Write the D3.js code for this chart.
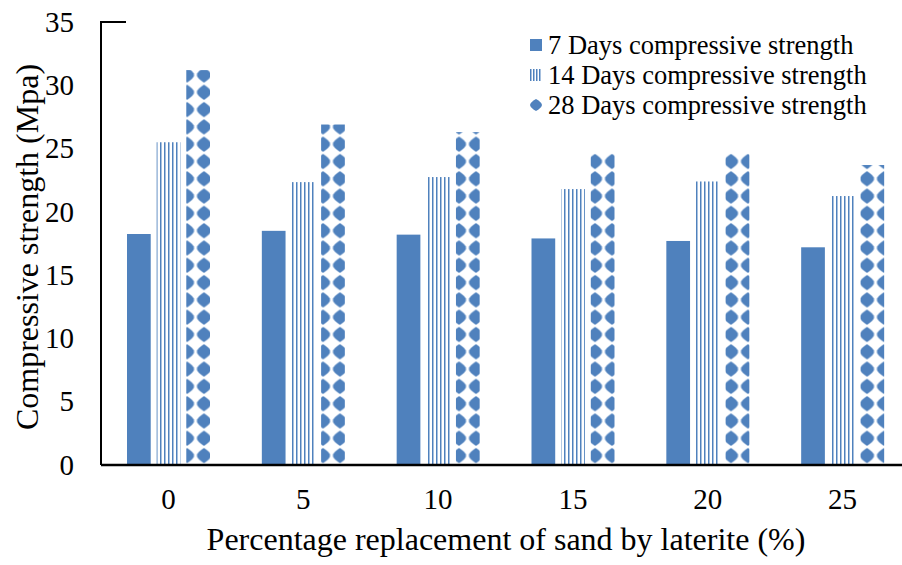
<!DOCTYPE html>
<html>
<head>
<meta charset="utf-8">
<style>
  body { margin: 0; background: #fff; }
  svg { display: block; }
  text { font-family: "Liberation Serif", "Times New Roman", serif; fill: #000; }
</style>
</head>
<body>
<svg id="chart" width="902" height="565"></svg>
<script src="https://cdn.jsdelivr.net/npm/d3@7"></script>
<script>
    // data
    var categories = ["0", "5", "10", "15", "20", "25"];
    var seriesNames = ["7 Days compressive strength", "14 Days compressive strength", "28 Days compressive strength"];
    var days7 = [18.25, 18.5, 18.2, 17.9, 17.7, 17.2];
    var days14 = [25.5, 22.35, 22.75, 21.8, 22.4, 21.25];
    var days28 = [31.2, 26.9, 26.3, 24.6, 24.6, 23.7];
    var yTicks = [0, 5, 10, 15, 20, 25, 30, 35];

    var blue = "#4F81BD";
    var svg = d3.select("#chart"),
        plotL = 101, plotT = 22, plotB = 465, plotR = 910;

    var x = d3.scaleBand().domain(categories).range([plotL, plotR]).padding(0);
    var xs = d3.scaleBand().domain([0, 1, 2]).range([26, 109]).paddingInner(0.2).paddingOuter(0);
    var y = d3.scaleLinear().domain([0, 35]).range([plotB, plotT]);

    var defs = svg.append("defs");

    // narrow vertical stripes
    var stripe = defs.append("pattern").attr("id", "stripes")
        .attr("patternUnits", "userSpaceOnUse")
        .attr("width", 4).attr("height", 4);
    stripe.append("rect").attr("x", 0).attr("y", 0).attr("width", 1.5).attr("height", 4).attr("fill", blue);

    // rounded diamond lattice
    var dia = defs.append("pattern").attr("id", "diamonds")
        .attr("patternUnits", "userSpaceOnUse")
        .attr("x", 187 - 8.5).attr("y", 75 - 8.65)
        .attr("width", 17).attr("height", 17.3);
    dia.append("path")
        .attr("d", "M8.5,1 L10.5,2.3 L13.5,4.8 L15.2,7 L15.6,8.65 L15.2,10.3 L13.5,12.5 L10.5,15 L8.5,16.3 L6.5,15 L3.5,12.5 L1.8,10.3 L1.4,8.65 L1.8,7 L3.5,4.8 L6.5,2.3 Z")
        .attr("fill", blue);

    var ls = defs.append("pattern").attr("id", "lstripes")
        .attr("patternUnits", "userSpaceOnUse").attr("width", 3).attr("height", 3);
    ls.append("rect").attr("width", 1.5).attr("height", 3).attr("fill", blue);

    var fills = [blue, "url(#stripes)", "url(#diamonds)"];
    var series = [days7, days14, days28];

    var groups = svg.append("g").selectAll("g")
        .data(categories)
        .join("g");

    groups.selectAll("rect")
        .data(function (c, i) {
            return series.map(function (s, k) { return {k: k, v: s[i], c: c}; });
        })
        .join("rect")
        .attr("x", function (d) { return x(d.c) + xs(d.k); })
        .attr("width", xs.bandwidth())
        .attr("y", function (d) { return y(d.v); })
        .attr("height", function (d) { return plotB - y(d.v); })
        .attr("fill", function (d) { return fills[d.k]; });

    // y axis
    var yAxis = svg.append("g").attr("transform", "translate(" + plotL + ",0)")
        .call(d3.axisLeft(y).tickValues(yTicks).tickSize(0).tickPadding(27));
    yAxis.select(".domain").attr("stroke", "#000").attr("stroke-width", 2)
        .attr("d", "M25," + plotT + "H0V" + plotB);
    yAxis.selectAll("text").style("font-size", "29px").style("font-family", "Liberation Serif").attr("fill", "#000");

    // x axis
    var xAxis = svg.append("g").attr("transform", "translate(0," + plotB + ")")
        .call(d3.axisBottom(x).tickSize(0).tickPadding(23));
    xAxis.select(".domain").attr("stroke", "#000").attr("stroke-width", 2.5)
        .attr("d", "M" + plotL + ",0H902");
    xAxis.selectAll("text").style("font-size", "29px").style("font-family", "Liberation Serif").attr("fill", "#000");

    // axis titles
    svg.append("text")
        .attr("x", 506).attr("y", 550)
        .attr("text-anchor", "middle")
        .style("font-size", "32px")
        .text("Percentage replacement of sand by laterite (%)");

    svg.append("text")
        .attr("transform", "translate(38,247) rotate(-90)")
        .attr("text-anchor", "middle")
        .style("font-size", "32px")
        .text("Compressive strength (Mpa)");

    // legend
    var legend = svg.append("g").selectAll("g")
        .data(seriesNames)
        .join("g")
        .attr("transform", function (d, i) { return "translate(530," + (45 + i * 30) + ")"; });

    legend.append("rect")
        .attr("x", 0).attr("y", -6).attr("width", 12).attr("height", 12)
        .attr("fill", function (d, i) { return i === 0 ? blue : i === 1 ? "url(#lstripes)" : "none"; });

    legend.filter(function (d, i) { return i === 2; })
        .append("path")
        .attr("d", "M6,-6 L8.5,-4.6 L11.2,-2 L12,0 L11.2,2 L8.5,4.6 L6,6 L3.5,4.6 L0.8,2 L0,0 L0.8,-2 L3.5,-4.6 Z")
        .attr("fill", blue);

    legend.append("text")
        .attr("x", 18).attr("y", 0).attr("dy", "0.35em")
        .style("font-size", "26.5px")
        .text(function (d) { return d; });
</script>
</body>
</html>
